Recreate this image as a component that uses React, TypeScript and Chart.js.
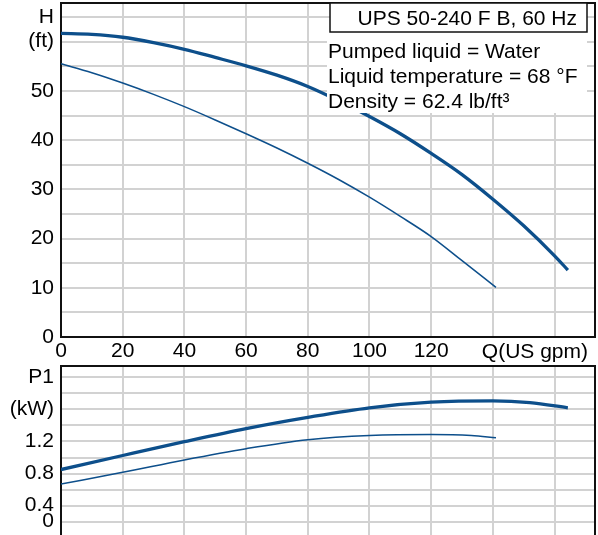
import React, { useEffect, useRef } from "react";
import { Chart, registerables } from "chart.js";

Chart.register(...registerables);

// ---------- data ----------
const headFlowLarge = [0, 10, 20, 30, 40, 50, 60, 70, 80, 90, 100, 110, 120, 130, 140, 150, 160, 164.3];
const headLarge = [61.7, 61.5, 60.9, 59.8, 58.45, 56.8, 55.1, 53.2, 50.9, 48.0, 44.8, 41.3, 37.3, 33.0, 28.0, 22.6, 16.5, 13.6];

const headFlowSmall = [0, 10, 20, 30, 40, 50, 60, 70, 80, 90, 100, 110, 120, 130, 141];
const headSmall = [55.5, 53.7, 51.6, 49.3, 46.8, 44.1, 41.3, 38.4, 35.3, 32.0, 28.4, 24.5, 20.4, 15.5, 10.1];

const powerFlowLarge = [0, 20, 40, 60, 80, 100, 120, 140, 152, 164.3];
const powerLarge = [0.85, 1.025, 1.197, 1.36, 1.5, 1.62, 1.69, 1.707, 1.685, 1.62];

const powerFlowSmall = [0, 20, 40, 60, 80, 100, 120, 133, 141];
const powerSmall = [0.668, 0.815, 0.97, 1.11, 1.222, 1.275, 1.288, 1.275, 1.247];

const xGridValues = [0, 20, 40, 60, 80, 100, 120, 140, 160];
const xTickValues = [0, 20, 40, 60, 80, 100, 120];
const xTickLabels = ["0", "20", "40", "60", "80", "100", "120"];
const xAxisTitle = "Q(US gpm)";

const headGridValues = [0, 5, 10, 15, 20, 25, 30, 35, 40, 45, 50, 55, 60, 65];
const headLabelValues = [0, 10, 20, 30, 40, 50, 60, 65];
const headLabelTexts = ["0", "10", "20", "30", "40", "50", "(ft)", "H"];

const powerGridValues = [0, 0.2, 0.4, 0.6, 0.8, 1.0, 1.2, 1.4, 1.6, 1.8, 2.0];
const powerLabelValues = [0.2, 0.4, 0.8, 1.2, 1.6, 2.0];
const powerLabelTexts = ["0", "0.4", "0.8", "1.2", "(kW)", "P1"];

const legendTitle = "UPS 50-240 F B, 60 Hz";
const legendLines = ["Pumped liquid = Water", "Liquid temperature = 68 °F", "Density = 62.4 lb/ft³"];

// ---------- style ----------
const FONT = "'Liberation Sans', Arial, sans-serif";
const FONT_SIZE = 21;
const LINE_COLOR = "#0d4f8b";
const GRID_COLOR = "#d2d2d2";
const X_MAX = 173.1;

const toPoints = (xs: number[], ys: number[]) => xs.map((x, i) => ({ x, y: ys[i] }));

const framePlugin = {
  id: "frame",
  beforeDatasetsDraw(chart: any) {
    const { ctx, chartArea: a } = chart;
    ctx.save();
    ctx.strokeStyle = "#111";
    ctx.lineWidth = 2;
    ctx.strokeRect(a.left, a.top, a.right - a.left, a.bottom - a.top);
    ctx.restore();
  },
};

const headExtrasPlugin = {
  id: "headExtras",
  afterDatasetsDraw(chart: any) {
    const { ctx, chartArea: a } = chart;
    ctx.save();
    ctx.fillStyle = "#fff";
    ctx.fillRect(327, 32, 260, 81);
    ctx.fillRect(330, a.top, 257, 29);
    ctx.strokeStyle = "#111";
    ctx.lineWidth = 1.5;
    ctx.strokeRect(330, a.top, 257, 29);
    ctx.fillStyle = "#000";
    ctx.font = `${FONT_SIZE}px ${FONT}`;
    ctx.textBaseline = "alphabetic";
    ctx.textAlign = "right";
    ctx.fillText(legendTitle, 577, 25);
    ctx.textAlign = "left";
    legendLines.forEach((t, i) => ctx.fillText(t, 328, 58 + i * 25));
    ctx.textAlign = "right";
    ctx.textBaseline = "middle";
    ctx.fillText(xAxisTitle, 588, a.bottom + 15);
    ctx.restore();
  },
};

const pickLabel = (values: number[], texts: string[]) => (v: any) => {
  const n = Number(v);
  const i = values.findIndex((t) => Math.abs(t - n) < 1e-6);
  return i >= 0 ? texts[i] : "";
};

const setTicks = (values: number[]) => (s: any) => {
  s.ticks = values.map((value) => ({ value }));
};

const noPadding = (s: any) => {
  s.paddingTop = 0;
  s.paddingBottom = 0;
  s.paddingLeft = 0;
  s.paddingRight = 0;
};

const lineDs = (xs: number[], ys: number[], w: number) => ({
  data: toPoints(xs, ys),
  borderColor: LINE_COLOR,
  borderWidth: w,
  pointRadius: 0,
  cubicInterpolationMode: "monotone",
});

function HeadChart() {
  const ref = useRef<HTMLCanvasElement>(null);
  useEffect(() => {
    const chart = new Chart(ref.current!, {
      type: "line",
      data: {
        datasets: [lineDs(headFlowLarge, headLarge, 3.3), lineDs(headFlowSmall, headSmall, 1.5)],
      },
      options: {
        animation: false,
        responsive: false,
        events: [],
        layout: { padding: { top: 3, right: 3, left: 0, bottom: 0 } },
        plugins: { legend: { display: false }, tooltip: { enabled: false } },
        scales: {
          x: {
            type: "linear",
            min: 0,
            max: X_MAX,
            border: { display: false },
            grid: { color: GRID_COLOR, lineWidth: 2, drawTicks: false },
            afterBuildTicks: setTicks(xGridValues),
            ticks: {
              autoSkip: false,
              maxRotation: 0,
              padding: 2,
              color: "#000",
              font: { family: FONT, size: FONT_SIZE },
              callback: pickLabel(xTickValues, xTickLabels),
            },
            afterFit: (s: any) => { s.height = 28; noPadding(s); },
          },
          y: {
            type: "linear",
            min: 0,
            max: 67.86,
            border: { display: false },
            grid: { color: GRID_COLOR, lineWidth: 2, drawTicks: false },
            afterBuildTicks: setTicks(headGridValues),
            ticks: {
              autoSkip: false,
              padding: 7,
              color: "#000",
              font: { family: FONT, size: FONT_SIZE },
              callback: pickLabel(headLabelValues, headLabelTexts),
            },
            afterFit: (s: any) => { s.width = 61; noPadding(s); },
          },
        },
      },
      plugins: [framePlugin, headExtrasPlugin],
    } as any);
    return () => chart.destroy();
  }, []);
  return (
    <canvas
      ref={ref}
      width={598}
      height={365}
      style={{ position: "absolute", left: 0, top: 0, width: 598, height: 365 }}
    />
  );
}

function PowerChart() {
  const ref = useRef<HTMLCanvasElement>(null);
  useEffect(() => {
    const chart = new Chart(ref.current!, {
      type: "line",
      data: {
        datasets: [lineDs(powerFlowLarge, powerLarge, 3.3), lineDs(powerFlowSmall, powerSmall, 1.5)],
      },
      options: {
        animation: false,
        responsive: false,
        events: [],
        layout: { padding: { top: 6, right: 3, left: 0, bottom: 22.3 } },
        plugins: { legend: { display: false }, tooltip: { enabled: false } },
        scales: {
          x: {
            type: "linear",
            min: 0,
            max: X_MAX,
            border: { display: false },
            grid: { color: GRID_COLOR, lineWidth: 2, drawTicks: false },
            afterBuildTicks: setTicks(xGridValues),
            ticks: { display: false },
            afterFit: (s: any) => { s.height = 0; noPadding(s); },
          },
          y: {
            type: "linear",
            min: 0,
            max: 2.141,
            border: { display: false },
            grid: { color: GRID_COLOR, lineWidth: 2, drawTicks: false },
            afterBuildTicks: setTicks(powerGridValues),
            ticks: {
              autoSkip: false,
              padding: 7,
              color: "#000",
              font: { family: FONT, size: FONT_SIZE },
              callback: pickLabel(powerLabelValues, powerLabelTexts),
            },
            afterFit: (s: any) => { s.width = 61; noPadding(s); },
          },
        },
      },
      plugins: [framePlugin],
    } as any);
    return () => chart.destroy();
  }, []);
  return (
    <canvas
      ref={ref}
      width={598}
      height={200}
      style={{ position: "absolute", left: 0, top: 360, width: 598, height: 200 }}
    />
  );
}

export default function App() {
  return (
    <div
      style={{
        position: "absolute",
        left: 0,
        top: 0,
        width: 598,
        height: 535,
        overflow: "hidden",
        background: "#fff",
      }}
    >
      <HeadChart />
      <PowerChart />
    </div>
  );
}
